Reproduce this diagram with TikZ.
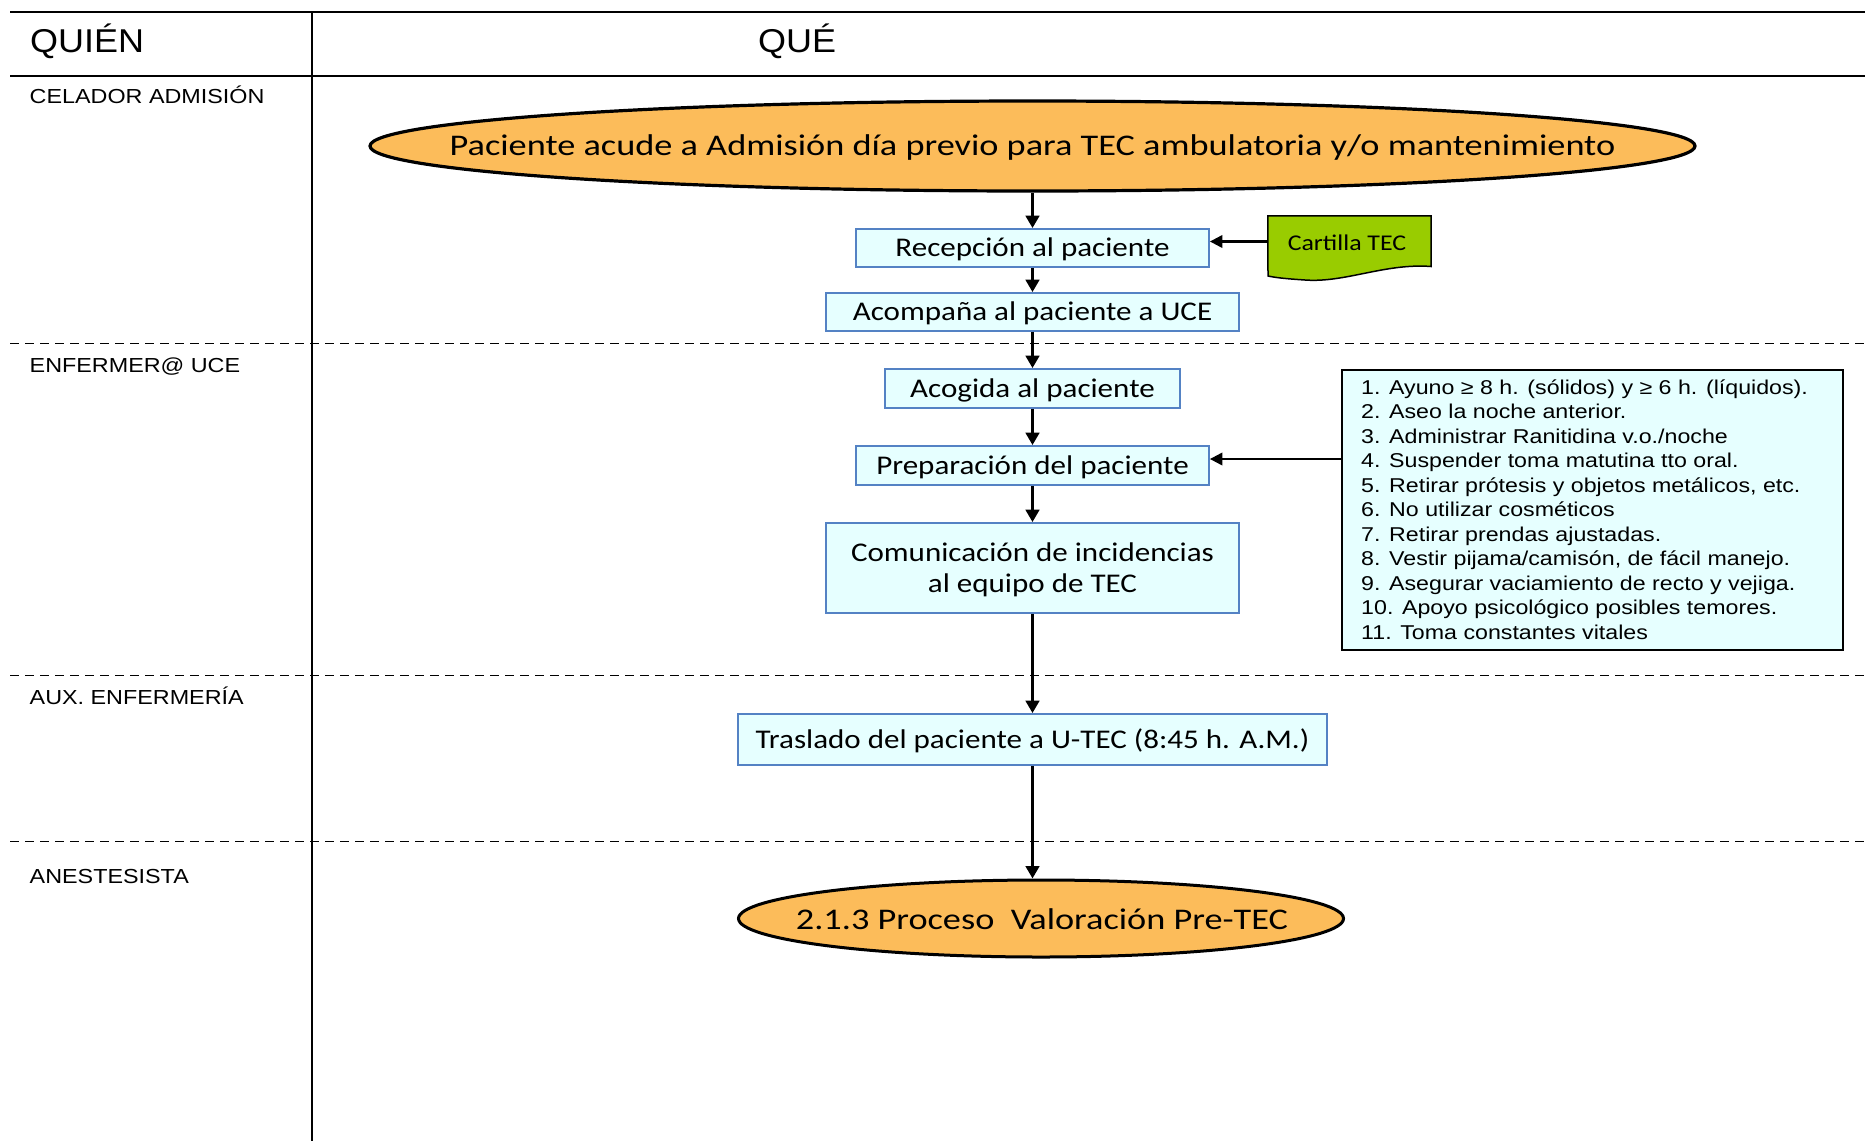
\documentclass[tikz,border=0pt]{standalone}
\usepackage{fontspec}
\setmainfont{Carlito}[FakeStretch=1.15]
\newfontfamily\calwide{Carlito}[FakeStretch=1.21]
\newfontfamily\arialf{Liberation Sans}[FakeStretch=1.15]
\newfontfamily\arialhead{Liberation Sans}[FakeStretch=1.09]
\newfontfamily\arialwide{Liberation Sans}[FakeStretch=1.16]
\usetikzlibrary{arrows.meta,shapes.geometric}
\definecolor{orangefill}{RGB}{252,188,90}
\definecolor{boxfill}{RGB}{230,255,255}
\definecolor{boxline}{RGB}{84,130,196}
\definecolor{greenfill}{RGB}{153,204,0}
\tikzset{
  x=1pt, y=-1pt,
  procbox/.style={draw=boxline, line width=1.8pt, fill=boxfill, inner sep=0pt,
    font=\fontsize{27}{31}\selectfont, text height=17.4pt, text depth=0pt},
  boxtext/.style={inner sep=0pt, font=\fontsize{27}{31}\selectfont, text height=17.4pt, text depth=0pt},
  terminal/.style={ellipse, draw=black, line width=3.2pt, fill=orangefill, inner sep=0pt},
  termtext/.style={inner sep=0pt, font=\calwide\fontsize{30}{36}\selectfont, text height=19.3pt, text depth=0pt},
  lanelabel/.style={anchor=west, inner sep=0pt, font=\arialf\fontsize{20.3}{24}\selectfont,
    text height=14.5pt, text depth=0pt},
  headlabel/.style={anchor=west, inner sep=0pt, font=\arialhead\fontsize{33}{40}\selectfont,
    text height=23.6pt, text depth=0pt},
  flow/.style={-{Triangle[length=12.5pt,width=13.5pt]}, line width=3.2pt},
  sideflow/.style={-{Triangle[length=12.5pt,width=12.5pt]}, line width=2.2pt},
  lanesep/.style={line width=1.6pt, dash pattern=on 9pt off 6pt},
  rule/.style={line width=1.8pt}
}
\begin{document}
\begin{tikzpicture}
\useasboundingbox (0,0) rectangle (1865,1141);
% table frame
\draw[rule] (10,12) -- (1865,12);
\draw[rule] (10,76) -- (1865,76);
\draw[rule] (312,12) -- (312,1141);
\draw[lanesep] (10,343.5) -- (1865,343.5);
\draw[lanesep] (10,675.5) -- (1865,675.5);
\draw[lanesep] (10,841.5) -- (1865,841.5);
% headers
\node[headlabel] (quien) at (30,40.5) {QUIÉN};
\node[headlabel] (que) at (758,40.5) {QUÉ};
% lanes
\node[lanelabel] (l1) at (29.5,96) {CELADOR ADMISIÓN};
\node[lanelabel] (l2) at (29.5,365) {ENFERMER@ UCE};
\node[lanelabel] (l3) at (29.5,697) {AUX. ENFERMERÍA};
\node[lanelabel] (l4) at (29.5,876) {ANESTESISTA};
% flow
\node[terminal, minimum width=1325pt, minimum height=90pt] (start) at (1032.5,146) {};
\node[termtext] (starttxt) at (1032.5,146.2) {Paciente acude a Admisión día previo para TEC ambulatoria y/o mantenimiento};
\node[procbox, minimum width=353pt, minimum height=38pt] (rec) at (1032.5,248) {Recepción al paciente};
\node[procbox, minimum width=413pt, minimum height=38pt] (acom) at (1032.5,312) {Acompaña al paciente a UCE};
\node[procbox, minimum width=295pt, minimum height=39pt] (acog) at (1032.5,388.5) {Acogida al paciente};
\node[procbox, minimum width=353pt, minimum height=39pt] (prep) at (1032.5,465.5) {Preparación del paciente};
\node[procbox, minimum width=413pt, minimum height=90pt] (com) at (1032.5,568) {};
\node[boxtext] (com1) at (1032.5,552.4) {Comunicación de incidencias};
\node[boxtext] (com2) at (1032.5,583.4) {al equipo de TEC};
\node[procbox, minimum width=589pt, minimum height=51pt] (tras) at (1032.5,739.5) {Traslado del paciente a U-TEC (8:45 h. A.M.)};
\node[terminal, minimum width=605pt, minimum height=77pt, line width=3pt] (fin) at (1041,918.5) {};
\node[termtext] (fintxt) at (1042,919.5) {2.1.3 Proceso\ \ Valoración Pre-TEC};
% document shape
\node[minimum width=163pt, minimum height=51pt, inner sep=0pt] (cart) at (1349.5,241.5) {};
\draw[line width=1.5pt, fill=greenfill] (cart.north west) -- (cart.north east) -- (1431,266.5)
  .. controls (1385,263) and (1345,283) .. (1305,280)
  .. controls (1290,279) and (1277,278) .. (1268,276) -- cycle;
\node[inner sep=0pt, font=\fontsize{22.5}{27}\selectfont, text height=14.5pt, text depth=0pt] (carttxt) at (1347,243) {Cartilla TEC};
% checklist
\node[draw=black, line width=1.5pt, fill=boxfill, minimum width=501pt, minimum height=280pt, inner sep=0pt] (list) at (1592.5,510) {};
\node[anchor=base west, inner sep=0pt, font=\arialwide\fontsize{20}{24.5}\selectfont] (listtxt) at (1361,394) {%
\begin{tabular}[t]{@{}l@{}}
1. Ayuno ≥ 8 h. (sólidos) y ≥ 6 h. (líquidos).\\
2. Aseo la noche anterior.\\
3. Administrar Ranitidina v.o./noche\\
4. Suspender toma matutina tto oral.\\
5. Retirar prótesis y objetos metálicos, etc.\\
6. No utilizar cosméticos\\
7. Retirar prendas ajustadas.\\
8. Vestir pijama/camisón, de fácil manejo.\\
9. Asegurar vaciamiento de recto y vejiga.\\
10. Apoyo psicológico posibles temores.\\
11. Toma constantes vitales
\end{tabular}};
% connectors
\draw[flow] (start.south) -- (rec.north);
\draw[flow] (rec.south) -- (acom.north);
\draw[flow] (acom.south) -- (acog.north);
\draw[flow] (acog.south) -- (prep.north);
\draw[flow] (prep.south) -- (com.north);
\draw[flow] (com.south) -- (tras.north);
\draw[flow] (tras.south) -- (tras.south |- fin.north);
\draw[sideflow] (cart.west) -- (rec.east |- cart.west);
\draw[sideflow] (list.west |- 0,459) -- (prep.east |- 0,459);
\end{tikzpicture}
\end{document}
